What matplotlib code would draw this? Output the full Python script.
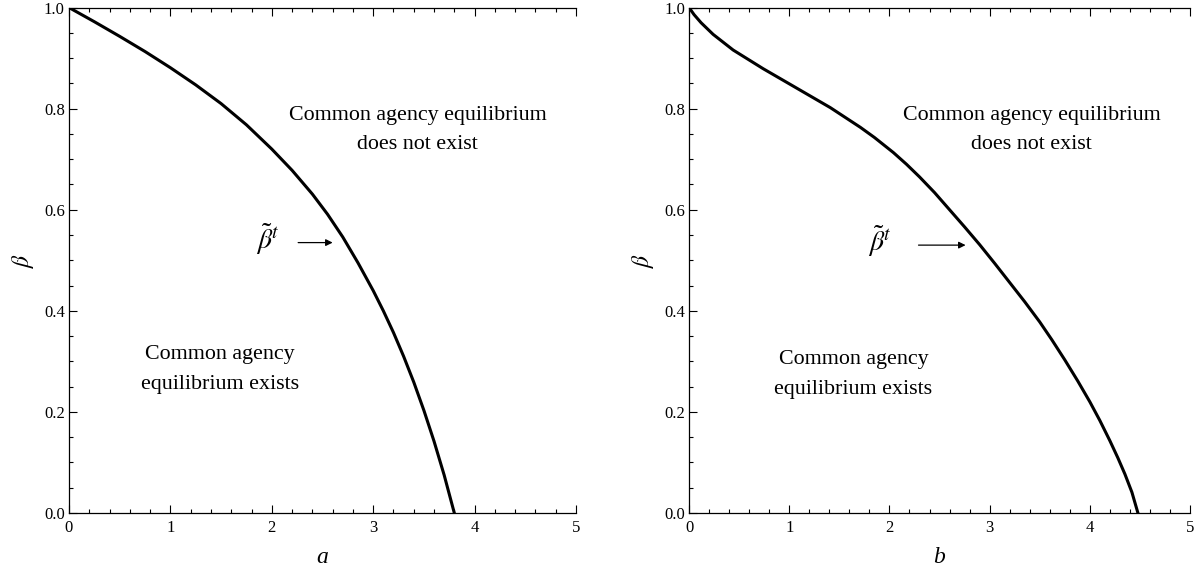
import matplotlib
matplotlib.use("Agg")
import matplotlib.pyplot as plt
from matplotlib.ticker import MultipleLocator

plt.rcParams["font.family"] = ["Liberation Serif", "DejaVu Serif"]
plt.rcParams["mathtext.fontset"] = "stix"

# threshold curve beta~t for each case, points read along the boundary
a_vals = [0.0, 0.25, 0.5, 0.75, 1.0, 1.25, 1.5, 1.75, 2.0, 2.2, 2.4, 2.55,
          2.7, 2.85, 3.0, 3.1, 3.2, 3.3, 3.4, 3.5, 3.6, 3.7, 3.8]
beta_a = [1.0, 0.972, 0.943, 0.913, 0.881, 0.847, 0.810, 0.768, 0.720, 0.678, 0.631, 0.591,
          0.546, 0.495, 0.440, 0.400, 0.357, 0.310, 0.259, 0.203, 0.142, 0.075, 0.0]

b_vals = [0.0, 0.05, 0.12, 0.24, 0.44, 0.74, 1.01, 1.41, 1.71, 1.85, 2.04, 2.17, 2.30,
          2.45, 2.60, 2.75, 2.90, 3.05, 3.20, 3.35, 3.50, 3.62, 3.75, 3.88, 4.00,
          4.10, 4.20, 4.28, 4.35, 4.42, 4.48]
beta_b = [1.0, 0.986, 0.970, 0.947, 0.916, 0.879, 0.848, 0.802, 0.763, 0.743, 0.713, 0.690, 0.665,
          0.634, 0.600, 0.566, 0.531, 0.494, 0.456, 0.418, 0.378, 0.343, 0.303, 0.261, 0.220,
          0.183, 0.143, 0.109, 0.077, 0.041, 0.0]

panels = [
    dict(x=a_vals, y=beta_a, xlabel="a", rect=[0.0573, 0.1109, 0.4211, 0.876],
         upper=(3.44, 0.758), lower=(1.49, 0.284),
         tag=(1.96, 0.541), arrow=((2.26, 0.535), (2.60, 0.535))),
    dict(x=b_vals, y=beta_b, xlabel="b", rect=[0.5723, 0.1109, 0.4161, 0.876],
         upper=(3.42, 0.758), lower=(1.64, 0.274),
         tag=(1.90, 0.537), arrow=((2.29, 0.530), (2.76, 0.530))),
]

fig = plt.figure(figsize=(12.04, 5.77), dpi=100)

for p in panels:
    ax = fig.add_axes(p["rect"])
    ax.plot(p["x"], p["y"], color="black", lw=2.2, solid_joinstyle="round")
    ax.set_xlim(0, 5)
    ax.set_ylim(0, 1)

    ax.xaxis.set_major_locator(MultipleLocator(1))
    ax.xaxis.set_minor_locator(MultipleLocator(0.2))
    ax.yaxis.set_major_locator(MultipleLocator(0.2))
    ax.yaxis.set_minor_locator(MultipleLocator(0.05))
    ax.set_yticklabels([f"{v:.1f}" for v in ax.get_yticks()])
    ax.tick_params(which="both", direction="in", top=True, right=False,
                   labelsize=12, width=0.8, pad=3)
    ax.tick_params(axis="x", pad=5)
    ax.tick_params(which="major", length=6)
    ax.tick_params(which="minor", length=3)
    ax.spines["right"].set_visible(False)
    for s in ["left", "bottom", "top"]:
        ax.spines[s].set_linewidth(0.9)

    ax.set_xlabel(p["xlabel"], fontsize=17, style="italic", labelpad=8)
    ax.set_ylabel(r"$\beta$", fontsize=17, labelpad=6)

    ax.text(*p["upper"], "Common agency equilibrium\ndoes not exist",
            ha="center", va="center", fontsize=15.8, linespacing=1.75)
    ax.text(*p["lower"], "Common agency\nequilibrium exists",
            ha="center", va="center", fontsize=15.8, linespacing=1.75)
    ax.text(*p["tag"], r"$\tilde{\beta}^{t}$", ha="center", va="center", fontsize=20)
    ax.annotate("", xy=p["arrow"][1], xytext=p["arrow"][0],
                arrowprops=dict(arrowstyle="-|>", color="black", lw=0.9,
                                mutation_scale=10, shrinkA=0, shrinkB=0))

fig.savefig("out.png", dpi=100)
